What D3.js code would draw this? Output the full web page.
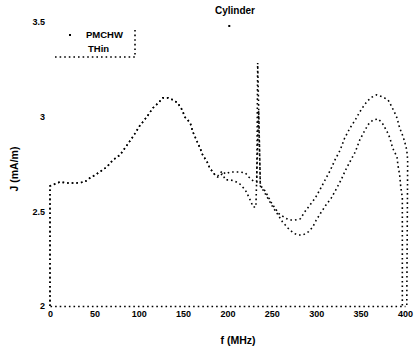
<!DOCTYPE html>
<html><head><meta charset="utf-8">
<script src="https://cdn.jsdelivr.net/npm/d3@7"></script>
<style>body{margin:0;background:#fff}svg{display:block}text{font-family:"Liberation Sans",Arial,sans-serif;font-weight:bold;fill:#000}</style>
</head><body>
<script>
const title = "Cylinder";
const xLabel = "f (MHz)";
const yLabel = "J (mA/m)";
const seriesNames = ["PMCHW", "THin"];
const xTicks = [0, 50, 100, 150, 200, 250, 300, 350, 400];
const yTicks = [2, 2.5, 3, 3.5];
const yTickLabels = ["2", "2.5", "3", "3.5"];

// shared low-frequency part
const commonF = [0, 0, 11, 19, 30, 39, 45, 51, 56, 64, 71, 79, 87, 94, 101, 109, 116, 122, 127, 133, 139, 144, 149, 152, 158, 161, 166, 169, 172, 177, 180, 186];
const commonJ = [2.0, 2.634, 2.655, 2.65, 2.65, 2.655, 2.676, 2.692, 2.708, 2.734, 2.771, 2.798, 2.851, 2.898, 2.951, 2.998, 3.046, 3.072, 3.099, 3.099, 3.088, 3.072, 3.035, 2.998, 2.967, 2.919, 2.866, 2.835, 2.798, 2.761, 2.729, 2.692];

const pmchwF = [189, 194, 198, 203, 208, 214, 220, 224, 229, 233, 234, 237, 240, 243, 246, 249, 251, 255, 257, 260, 265, 270, 276, 282, 287, 293, 299, 304, 310, 316, 321, 327, 332, 338, 344, 349, 355, 361, 368, 375, 381, 384, 388, 391, 394, 398, 400, 402, 403, 402];
const pmchwJ = [2.687, 2.713, 2.697, 2.708, 2.708, 2.708, 2.703, 2.681, 2.66, 2.655, 3.284, 2.634, 2.623, 2.602, 2.576, 2.549, 2.534, 2.507, 2.491, 2.481, 2.465, 2.454, 2.454, 2.46, 2.497, 2.534, 2.571, 2.613, 2.666, 2.718, 2.771, 2.824, 2.887, 2.94, 2.983, 3.025, 3.067, 3.099, 3.115, 3.104, 3.088, 3.062, 3.025, 2.993, 2.94, 2.893, 2.861, 2.824, 2.771, 2.0];

const thinF = [189, 194, 198, 203, 208, 214, 220, 224, 229, 232, 235, 237, 240, 246, 251, 257, 262, 268, 274, 279, 285, 291, 296, 300, 305, 311, 317, 322, 328, 333, 339, 344, 349, 355, 359, 364, 370, 375, 380, 383, 386, 391, 392, 394, 395, 397, 397];
const thinJ = [2.681, 2.697, 2.666, 2.666, 2.66, 2.644, 2.613, 2.576, 2.523, 2.523, 3.035, 2.634, 2.613, 2.565, 2.523, 2.481, 2.444, 2.412, 2.386, 2.375, 2.375, 2.391, 2.417, 2.454, 2.491, 2.534, 2.571, 2.613, 2.666, 2.718, 2.771, 2.814, 2.877, 2.93, 2.961, 2.983, 2.988, 2.961, 2.919, 2.887, 2.835, 2.787, 2.745, 2.692, 2.639, 2.571, 2.0];

const strayF = [202];
const strayJ = [3.479];

const W = 416, H = 353;
const svg = d3.select("body").append("svg").attr("width", W).attr("height", H);
const x = d3.scaleLinear().domain([0, 400]).range([50, 405]);
const y = d3.scaleLinear().domain([2, 3.5]).range([306, 22]);
const dash = "1.6 3";

// x axis
const gx = svg.append("g").attr("transform", `translate(0,${y(2)})`)
  .call(d3.axisBottom(x).tickValues(xTicks).tickSize(0).tickPadding(5).tickFormat(d3.format("d")));
gx.select(".domain").attr("stroke", "#000").attr("stroke-width", 1.6).attr("stroke-dasharray", dash);
gx.selectAll("text").attr("font-size", 9).style("font-family", "Liberation Sans, Arial, sans-serif").style("font-weight", "bold");

// y axis
const gy = svg.append("g").attr("transform", `translate(${x(0)},0)`)
  .call(d3.axisLeft(y).tickValues(yTicks).tickSize(0).tickPadding(5).tickFormat((d, i) => yTickLabels[i]));
gy.select(".domain").remove();
gy.selectAll("text").attr("font-size", 9).style("font-family", "Liberation Sans, Arial, sans-serif").style("font-weight", "bold");

const line = d3.line().x(d => x(d[0])).y(d => y(d[1]));
function build(fs, js) {
  const pts = commonF.map((f, i) => [f, commonJ[i]]);
  fs.forEach((f, i) => pts.push([f, js[i]]));
  return pts;
}
[build(pmchwF, pmchwJ), build(thinF, thinJ)].forEach(pts => {
  svg.append("path").attr("d", line(pts)).attr("fill", "none")
    .attr("stroke", "#000").attr("stroke-width", 1.6).attr("stroke-dasharray", dash);
});
svg.selectAll(".stray").data(strayF).enter().append("rect")
  .attr("x", (d) => x(d) - 1).attr("y", (d, i) => y(strayJ[i]) - 1)
  .attr("width", 2).attr("height", 2).attr("fill", "#000");

// title and labels
svg.append("text").attr("x", 235).attr("y", 14).attr("text-anchor", "middle").attr("font-size", 10).text(title);
svg.append("text").attr("x", 238).attr("y", 344).attr("text-anchor", "middle").attr("font-size", 10.5).text(xLabel);
svg.append("text").attr("transform", "translate(18,169) rotate(-90)").attr("text-anchor", "middle").attr("font-size", 10.5).text(yLabel);

// legend
const lg = svg.append("g");
lg.append("line").attr("x1", 135).attr("x2", 135).attr("y1", 30).attr("y2", 56)
  .attr("stroke", "#000").attr("stroke-width", 1.6).attr("stroke-dasharray", dash);
lg.append("line").attr("x1", 55).attr("x2", 136).attr("y1", 57).attr("y2", 57)
  .attr("stroke", "#000").attr("stroke-width", 1.6).attr("stroke-dasharray", dash);
lg.append("rect").attr("x", 69).attr("y", 34).attr("width", 2).attr("height", 2).attr("fill", "#000");
lg.selectAll(".lt").data(seriesNames).enter().append("text")
  .attr("x", (d, i) => i === 0 ? 86 : 88).attr("y", (d, i) => 38 + i * 14)
  .attr("font-size", 9.5).text(d => d);
</script>
</body></html>
